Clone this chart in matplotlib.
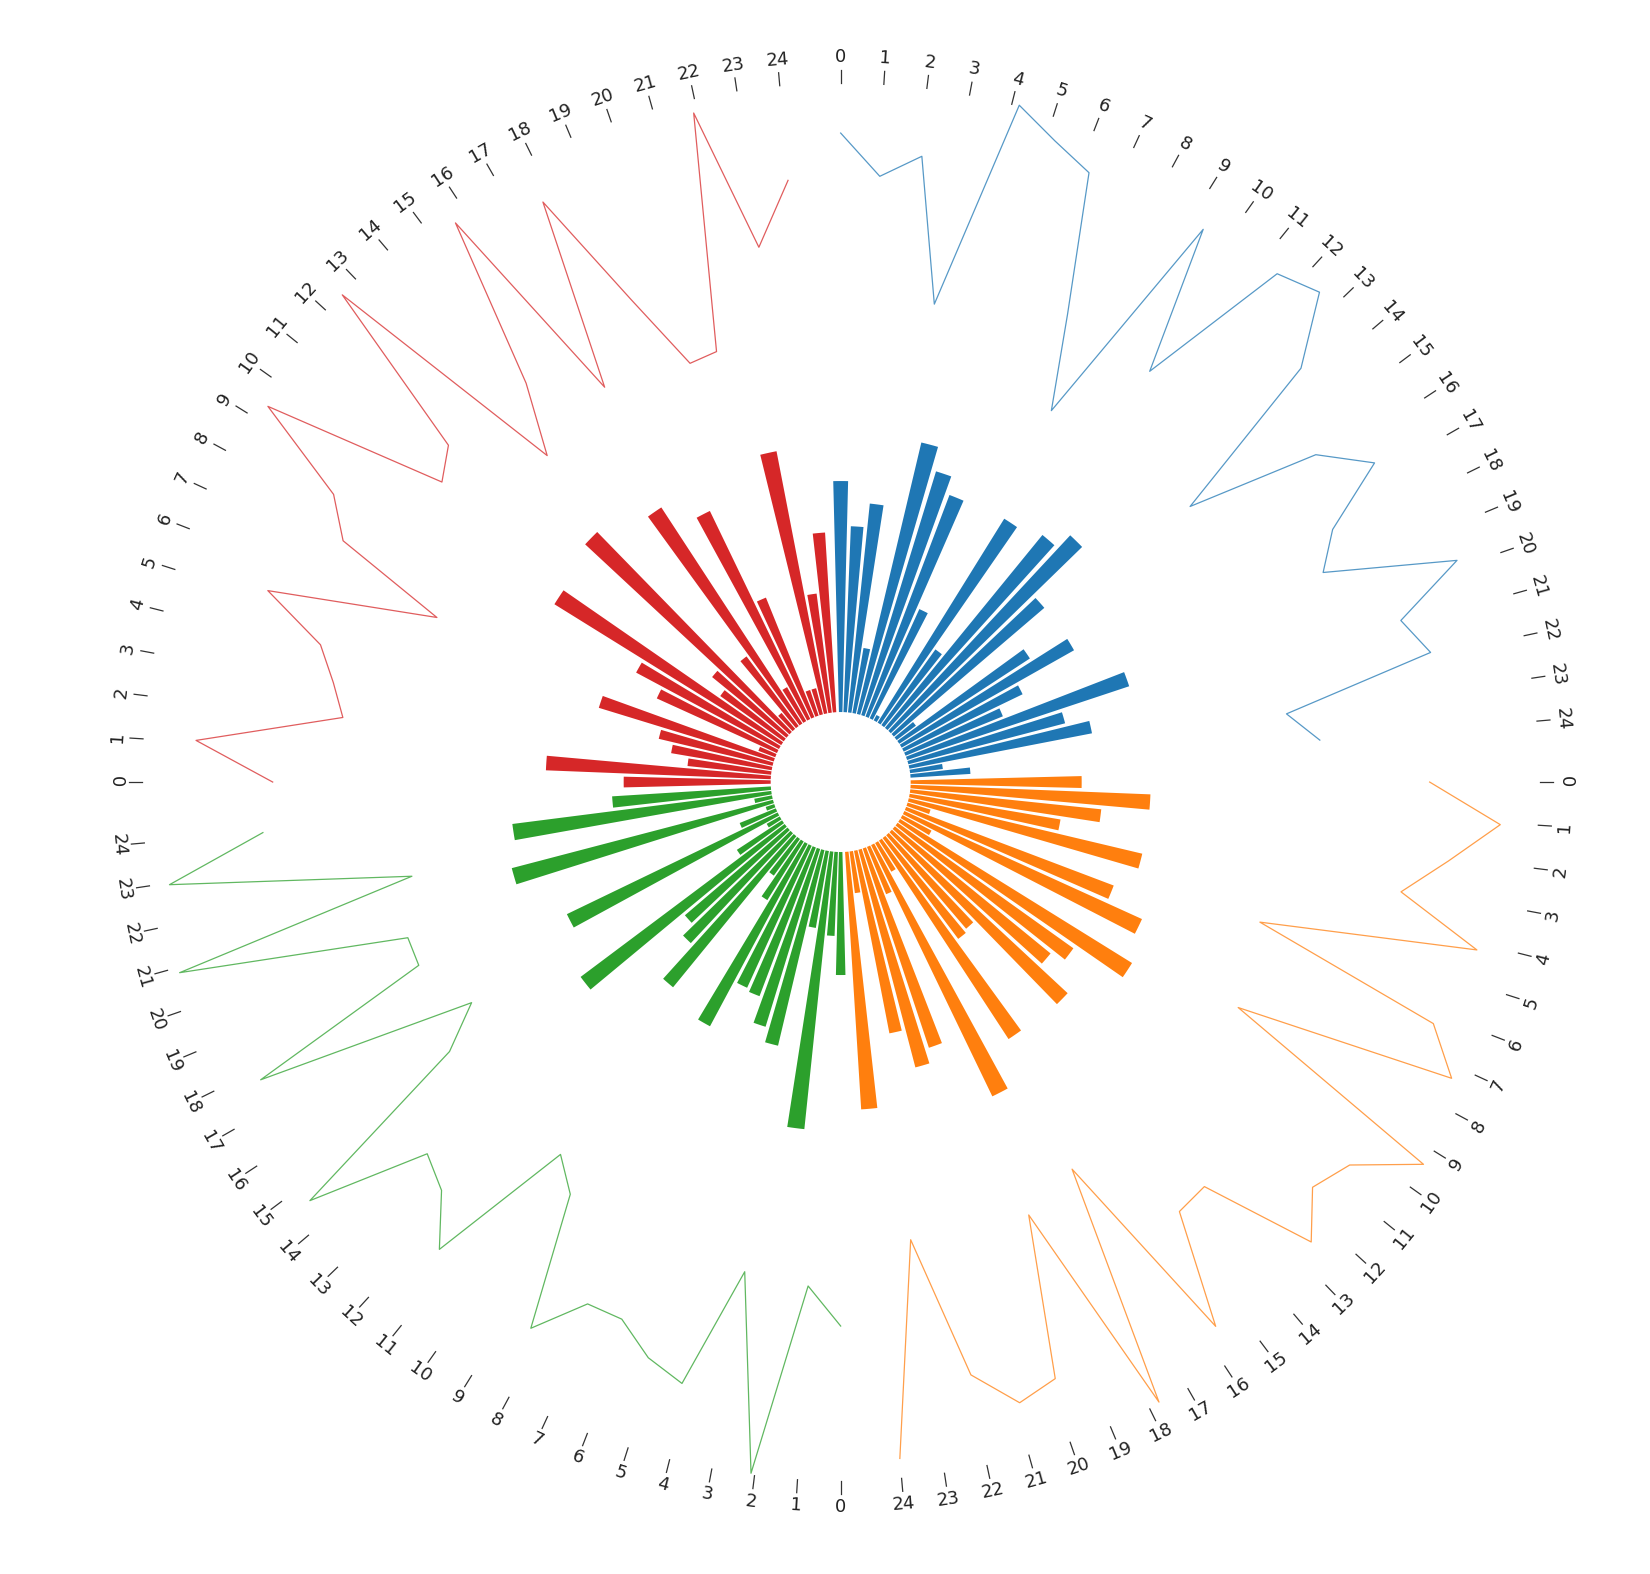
import numpy as np
import matplotlib.pyplot as plt

# four sectors, 24 samples each, drawn clockwise from 12 o'clock
colors = ['#1f77b4', '#ff7f0e', '#2ca02c', '#d62728']
tick_labels = [str(i) for i in range(25)]

# inner bars (0-100)
bar_a = [77, 62, 70, 22, 93, 85, 79, 40, 2, 80, 31, 83, 89, 66, 8, 52, 66, 44, 35, 78, 54, 62, 11, 20]
bar_b = [57, 80, 64, 51, 80, 8, 74, 87, 11, 91, 72, 67, 80, 41, 42, 79, 11, 93, 17, 70, 75, 62, 14, 86]
bar_c = [41, 28, 93, 26, 67, 62, 53, 52, 69, 23, 15, 65, 50, 45, 85, 18, 5, 78, 13, 3, 90, 6, 87, 53]
bar_d = [49, 75, 28, 34, 39, 61, 6, 44, 54, 89, 26, 32, 93, 7, 29, 86, 13, 77, 43, 9, 9, 89, 40, 60]

# outer lines (0-100)
line_a = [83, 69, 77, 29, 100, 92, 86, 40, 9, 87, 38, 90, 95, 73, 15, 59, 74, 51, 42, 85, 61, 68, 17, 27]
line_b = [63, 87, 71, 57, 86, 14, 80, 93, 19, 99, 79, 74, 86, 48, 49, 87, 17, 99, 24, 78, 82, 69, 21, 93]
line_c = [48, 35, 99, 33, 74, 69, 60, 60, 76, 31, 22, 72, 57, 52, 92, 25, 10, 84, 20, 20, 96, 13, 93, 60]
line_d = [56, 82, 34, 39, 46, 68, 12, 51, 61, 95, 33, 39, 99, 13, 36, 93, 20, 84, 42, 15, 16, 95, 47, 68]

bars = [bar_a, bar_b, bar_c, bar_d]
lines = [line_a, line_b, line_c, line_d]

SPAN = 85          # degrees per sector (5 deg gap)
HUB = 70           # inner hole radius
SCALE = 3          # radius per value unit
LINE_BASE = 400    # start of the outer track
TICK_R = (699, 712)
LABEL_R = 725

fig = plt.figure(figsize=(16.5, 15.74), dpi=100)
ax = fig.add_axes([0.0489, 0.0203, 0.9212, 0.9657], projection='polar')
ax.set_theta_zero_location('N')
ax.set_theta_direction(-1)
ax.set_ylim(0, 760)
ax.axis('off')

unit = SPAN / 24
for k in range(4):
    start = 90 * k
    x = np.linspace(0, 24, len(bars[k]))
    theta = np.deg2rad(start + x * unit)
    ax.bar(theta, np.array(bars[k]) * SCALE, width=np.deg2rad(0.8 * unit),
           bottom=HUB, color=colors[k], linewidth=0)
    ax.plot(theta, LINE_BASE + np.array(lines[k]) * SCALE, color=colors[k],
            lw=0.9, alpha=0.75)

    for t, lab in enumerate(tick_labels):
        deg = start + t * unit
        th = np.deg2rad(deg)
        ax.plot([th, th], TICK_R, color='#333333', lw=0.9)
        rot = -deg
        if 90 < deg <= 270:
            rot += 180
        ax.text(th, LABEL_R, lab, rotation=rot, rotation_mode='anchor',
                ha='center', va='center', fontsize=13, color='#222222')

fig.savefig('out.png', dpi=100)
